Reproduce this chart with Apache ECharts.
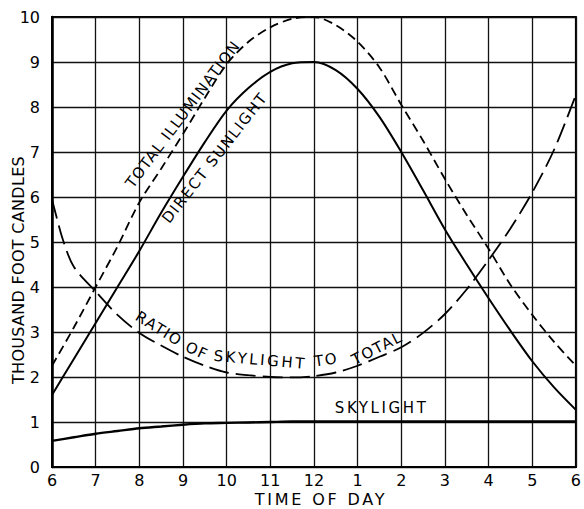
<!DOCTYPE html>
<html><head><meta charset="utf-8">
<script src="https://cdn.jsdelivr.net/npm/echarts@6/dist/echarts.min.js"></script>
<style>html,body{margin:0;padding:0;background:#fff}#c{width:584px;height:509px}</style>
</head><body><div id="c"></div>
<script>
// ---- data ----
const hours = [6,6.5,7,7.5,8,8.5,9,9.5,10,10.5,11,11.5,12,12.5,13,13.5,14,14.5,15,15.5,16,16.5,17,17.5,18];
const directSunlight = [1.6,2.4,3.2,4.0,4.8,5.65,6.45,7.22,7.92,8.42,8.78,8.97,9.0,8.82,8.4,7.78,7.0,6.15,5.28,4.5,3.75,3.03,2.35,1.77,1.27];
const totalIllumination = [2.25,3.1,4.0,4.9,5.88,6.63,7.4,8.2,8.95,9.45,9.77,9.96,10.0,9.82,9.45,8.88,8.05,7.25,6.4,5.6,4.85,4.05,3.38,2.78,2.25];
const skylight = [0.58,0.66,0.74,0.8,0.86,0.9,0.94,0.97,0.98,0.99,1.0,1.01,1.01,1.01,1.01,1.01,1.01,1.01,1.01,1.01,1.01,1.01,1.01,1.01,1.01];
const ratioHours = [6,6.25,6.5,7,7.5,8,8.5,9,9.5,10,10.5,11,11.5,12,12.5,13,13.5,14,14.5,15,15.5,16,16.5,17,17.5,18];
const ratioSkylightToTotal = [5.95,5.05,4.45,3.9,3.38,2.98,2.7,2.45,2.25,2.1,2.04,2.0,1.99,2.02,2.1,2.25,2.45,2.66,2.98,3.4,3.95,4.6,5.3,6.1,7.05,8.27];
const xTickLabels = ['6','7','8','9','10','11','12','1','2','3','4','5','6'];
const yTickLabels = ['0','1','2','3','4','5','6','7','8','9','10'];

// ---- annotations (anchored in data coordinates) ----
const annotations = [
  {text:'TOTAL ILLUMINATION', at:[9.0,7.84], angle:53},
  {text:'DIRECT SUNLIGHT', at:[9.73,6.87], angle:52},
  {text:'RATIO', at:[8.45,3.07], angle:-32},
  {text:'OF', at:[9.32,2.58], angle:-25},
  {text:'SKYLIGHT', at:[10.77,2.38], angle:-5},
  {text:'TO', at:[12.28,2.38], angle:8},
  {text:'TOTAL', at:[13.45,2.64], angle:27},
  {text:'SKYLIGHT', at:[13.55,1.31], angle:0}
];

const FONT = '"DejaVu Sans", sans-serif';
const zip = (xs, ys) => xs.map((x,i)=>[x, ys[i]]);
const chart = echarts.init(document.getElementById('c'), null, {renderer:'svg'});

const lineBase = {type:'line', showSymbol:false, smooth:0.3, silent:true, animation:false};
const option = {
  animation:false,
  grid:{left:52, right:2, top:17, bottom:42, show:true, borderColor:'#000', borderWidth:2},
  xAxis:{type:'value', min:6, max:18, interval:1,
    axisLine:{show:true, onZero:false, lineStyle:{color:'#000', width:2}},
    axisTick:{show:false},
    axisLabel:{color:'#000', fontSize:16, fontFamily:FONT, margin:5,
      formatter:(v)=>xTickLabels[Math.round(v-6)]},
    splitLine:{show:true, lineStyle:{color:'#111', width:1.3}}},
  yAxis:{type:'value', min:0, max:10, interval:1,
    axisLine:{show:true, lineStyle:{color:'#000', width:2.5}},
    axisTick:{show:false},
    axisLabel:{color:'#000', fontSize:16, fontFamily:FONT, margin:12,
      formatter:(v)=>yTickLabels[Math.round(v)]},
    splitLine:{show:true, lineStyle:{color:'#111', width:1.3}}},
  series:[
    Object.assign({}, lineBase, {name:'Total illumination', data:zip(hours,totalIllumination),
      lineStyle:{color:'#000', width:1.8, type:[9,5]}}),
    Object.assign({}, lineBase, {name:'Direct sunlight', data:zip(hours,directSunlight),
      lineStyle:{color:'#000', width:2}}),
    Object.assign({}, lineBase, {name:'Skylight', data:zip(hours,skylight),
      lineStyle:{color:'#000', width:2.4}}),
    Object.assign({}, lineBase, {name:'Ratio of skylight to total', data:zip(ratioHours,ratioSkylightToTotal),
      lineStyle:{color:'#000', width:1.8, type:[20,7]}})
  ]
};
chart.setOption(option);

const graphics = annotations.map(a=>{
  const p = chart.convertToPixel({gridIndex:0}, a.at);
  return {type:'text', x:p[0], y:p[1], rotation:a.angle*Math.PI/180, silent:true,
    style:{text:a.text, align:'center', verticalAlign:'middle', fill:'#000',
      font:'15px ' + FONT}};
});
graphics.push({type:'text', x:18, y:270, rotation:Math.PI/2, silent:true,
  style:{text:'THOUSAND FOOT CANDLES', align:'center', verticalAlign:'middle', fill:'#000', font:'16px ' + FONT}});
graphics.push({type:'text', x:321, y:499, silent:true,
  style:{text:'TIME OF DAY', align:'center', verticalAlign:'middle', fill:'#000', font:'16px ' + FONT}});
chart.setOption({graphic:graphics});

// wide, drafting-style lettering
const spacing = {'TOTAL ILLUMINATION':1.2,'DIRECT SUNLIGHT':1.6,'RATIO':1.5,'OF':1.5,'SKYLIGHT':2.6,'TO':1.5,'TOTAL':1.5,'TIME OF DAY':2.8,'THOUSAND FOOT CANDLES':0.3};
document.querySelectorAll('#c text').forEach(t=>{
  const s = spacing[t.textContent];
  if (s) t.style.letterSpacing = s + 'px';
});
</script>
</body></html>
